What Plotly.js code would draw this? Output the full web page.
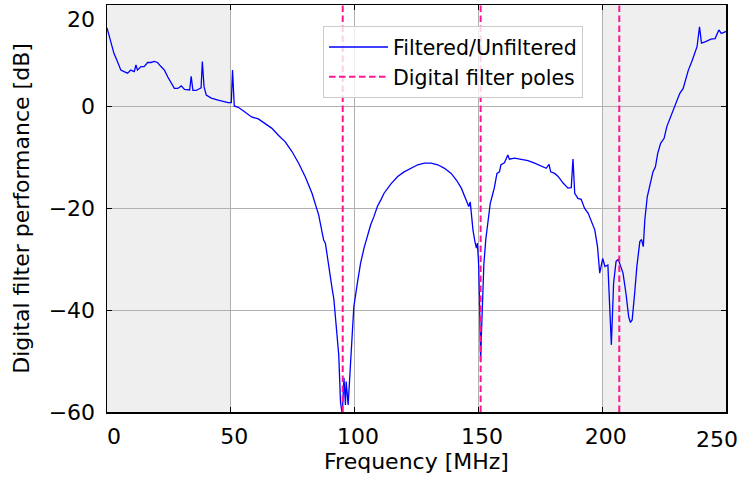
<!DOCTYPE html>
<html>
<head>
<meta charset="utf-8">
<script src="https://cdn.plot.ly/plotly-3.0.1.min.js"></script>
<style>html,body{margin:0;padding:0;background:#fff;}#chart{width:741px;height:477px;}</style>
</head>
<body>
<div id="chart"></div>
<script>
// Frequency [MHz] and filtered/unfiltered ratio [dB]
var freq = [0, 0.8, 1.5, 2.8, 4.2, 5.6, 6.9, 8.3, 9.6, 11, 11.7, 12.3, 13.7, 15, 16.4, 17.8, 19.1, 20.4, 21.8, 23.2,
  24.5, 25.9, 27.2, 28.6, 30, 31.3, 32.6, 33.4, 34.0, 34.7, 36, 37.4, 38.0, 38.5, 39.2, 40.1, 42.1, 44.9, 46.9, 48.9,
  50.2, 50.7, 51.4, 53, 55, 58.4, 61.1, 63.8, 66.5, 69.2, 72, 74.7, 77.4, 80.1, 82.8, 85.5, 87.5, 88.2, 89.6, 90.9,
  91.6, 92.3, 93.6, 94.3, 95.0, 95.7, 96.3, 96.6, 97.4, 98.4, 99.1, 99.7, 101.1, 102.4, 103.8, 105.2, 106.5, 107.8, 109.2, 110.6,
  111.9, 114.6, 117.4, 120.0, 122.8, 125.5, 128.2, 130.9, 133.6, 136.3, 139.0, 141.1, 143.1, 145.1, 146.1, 146.7, 147.2, 147.8, 148.6, 149.2,
  149.6, 150.1, 150.4, 150.7, 150.9, 151.2, 151.6, 152.2, 153.0, 153.9, 154.8, 155.6, 156.4, 157.5, 158.5, 159.1, 160.5, 161.9, 162.5, 164.6,
  166.6, 168.0, 170.0, 172.7, 175.4, 177.4, 178.5, 179.2, 180.8, 182.2, 184.2, 186.2, 187.5, 188.2, 188.9, 190.2, 191.5, 192.9, 194.3, 195.6,
  197.0, 198.1, 199.0, 200.2, 201.1, 202.3, 202.8, 203.7, 204.6, 205.6, 206.5, 207.4, 208.4, 209.6, 210.7, 211.4, 212.1, 213.1, 214.0, 215.2,
  215.9, 216.6, 217.2, 218.2, 219.4, 220.5, 221.5, 222.4, 223.6, 225.0, 226.1, 227.1, 228.5, 229.9, 231.3, 232.7, 233.7, 234.8, 236.2, 237.3,
  238.3, 239.3, 240.1, 241.8, 243.9, 245.6, 247.1, 248.1, 250];
var ratioDb = [15.5, 14.1, 13.1, 10.5, 8.9, 7.2, 6.9, 6.6, 7.2, 6.9, 8.2, 7.2, 7.9, 7.9, 8.7, 8.7, 8.9, 8.7, 7.9, 7.2,
  5.9, 4.6, 3.6, 3.6, 4.1, 3.4, 3.3, 3.3, 6.0, 3.2, 3.2, 3.6, 3.7, 8.9, 3.9, 2.3, 1.7, 1.3, 1.0, 0.8,
  0.8, 7.2, 0.15, -0.1, -0.8, -2.0, -2.4, -3.3, -4.2, -5.6, -6.9, -8.8, -11.1, -13.8, -17.0, -21.3, -26.2, -26.8, -31.8, -35.7,
  -37.7, -41.3, -48.8, -58, -60.5, -53.3, -58.6, -54, -58.6, -50.1, -43.5, -39.3, -34.7, -30.8, -27.8, -25.5, -23.2, -21.6, -19.6, -18.3,
  -17.0, -15.2, -13.7, -12.8, -12.1, -11.4, -11.1, -11.1, -11.4, -12.1, -13.1, -14.4, -16.0, -18.3, -19.6, -18.7, -21.6, -24.2, -26.5, -27.8,
  -26.8, -31, -37, -45, -50.2, -45, -38, -31, -26, -21.8, -19, -17.5, -16.0, -13.1, -12.8, -11.4, -11.0, -9.5, -10.3, -10.1,
  -10.3, -10.5, -10.6, -11.1, -11.6, -12.1, -11.3, -12.8, -13.1, -13.7, -15.0, -16.0, -15.9, -10.3, -17.0, -18.0, -18.2, -20.0, -20.9, -22.5,
  -24.2, -27.5, -32.7, -29.8, -31.4, -31.1, -38.0, -46.8, -34.7, -30.4, -30.0, -31.4, -32.7, -36.7, -41.3, -42.4, -41.9, -36.7, -31.4, -26.5,
  -26.1, -27.5, -22.3, -17.7, -15.4, -12.8, -11.8, -9.2, -7.2, -6.2, -3.9, -2.6, -1.0, 0.7, 2.6, 3.6, 5.6, 7.2, 8.9, 10.5,
  11.8, 15.7, 12.5, 12.8, 13.3, 13.4, 15.1, 14.4, 14.8];
var poleFreqs = [95.2, 150.9, 206.9];
var shadedBands = [[0, 50], [200, 250]];
var xTicks = [0, 50, 100, 150, 200, 250];
var xTickText = ['\u00a0\u00a00', '\u00a050', '\u00a0100', '\u00a0150', '\u00a0200', ''];
var lastXTickLabel = '250';
var yTicks = [-60, -40, -20, 0, 20];
var yTickText = ['\u221260', '\u221240', '\u221220', '0', '<br>20'];
var yRange = [-60, 20];

var poleX = [], poleY = [];
poleFreqs.forEach(function (p) { poleX.push(p, p, null); poleY.push(yRange[0], yRange[1], null); });

var traces = [
  {x: freq, y: ratioDb, type: 'scatter', mode: 'lines', name: 'Filtered/Unfiltered',
   line: {color: '#0000ff', width: 1.3}},
  {x: poleX, y: poleY, type: 'scatter', mode: 'lines', name: 'Digital filter poles',
   line: {color: '#ff1493', width: 2, dash: '6.5px,3.5px'}}
];

var shapes = shadedBands.map(function (b) {
  return {type: 'rect', xref: 'x', yref: 'paper', x0: b[0], x1: b[1], y0: 0, y1: 1,
          fillcolor: '#efefef', line: {width: 0}, layer: 'below'};
});

var font = {family: 'DejaVu Sans, sans-serif', size: 22, color: '#000'};
var legendFont = {family: 'DejaVu Sans, sans-serif', size: 20.5, color: '#000'};
var axisCommon = {
  showline: true, linecolor: '#000', linewidth: 1.5, mirror: 'allticks',
  ticks: 'inside', ticklen: 5, tickwidth: 1.3, tickcolor: '#000',
  showgrid: true, gridcolor: '#b0b0b0', gridwidth: 1, zeroline: false,
  tickfont: font, automargin: false, ticklabeloverflow: 'allow'
};

var layout = {
  width: 741, height: 477,
  margin: {l: 107, r: 15, t: 5, b: 65},
  paper_bgcolor: '#fff', plot_bgcolor: '#fff',
  font: font,
  showlegend: true,
  xaxis: Object.assign({}, axisCommon, {range: [xTicks[0], xTicks[xTicks.length - 1]],
    tickvals: xTicks, ticktext: xTickText, ticklabelstandoff: 4,
    title: {text: 'Frequency [MHz]', font: font, standoff: 4}}),
  yaxis: Object.assign({}, axisCommon, {range: yRange, tickvals: yTicks, ticktext: yTickText,
    ticklabelstandoff: 6,
    title: {text: 'Digital filter performance [dB]', font: font, standoff: 13}}),
  legend: {x: 0.349, y: 0.948, xanchor: 'left', yanchor: 'top',
    bgcolor: 'rgba(255,255,255,0.8)', bordercolor: '#cccccc', borderwidth: 1,
    font: legendFont, itemwidth: 59},
  annotations: [{xref: 'x', yref: 'paper', x: xTicks[xTicks.length - 1], y: 0,
    xanchor: 'right', yanchor: 'top', xshift: 14, yshift: -13, showarrow: false,
    text: lastXTickLabel, font: font}],
  shapes: shapes
};

Plotly.newPlot('chart', traces, layout, {displayModeBar: false, staticPlot: true});
</script>
</body>
</html>
